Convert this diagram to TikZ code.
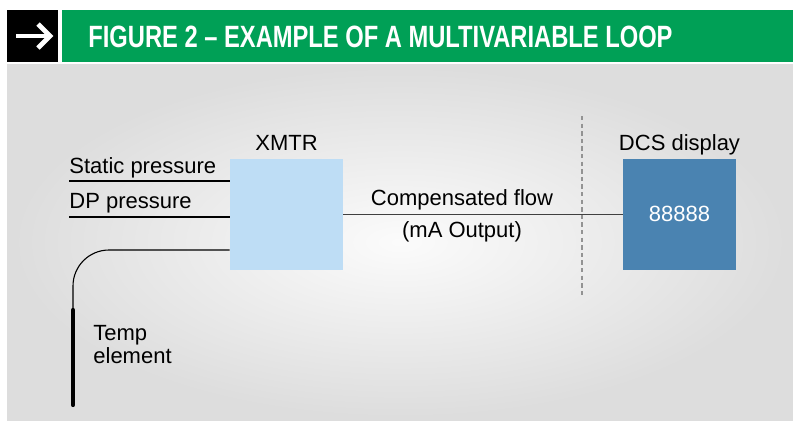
\documentclass[tikz,border=0pt]{standalone}
\usepackage{fontspec}
\setmainfont{Liberation Sans}
\newfontfamily\titlefont[FakeStretch=0.77]{Liberation Sans}
\usetikzlibrary{positioning,calc}

\definecolor{figgreen}{HTML}{00A056}
\definecolor{xmtrblue}{HTML}{BEDDF5}
\definecolor{dcsblue}{HTML}{4A83B1}

\tikzset{
  lbl/.style={font=\fontsize{11}{13}\selectfont,inner sep=0pt},
  boxnode/.style={minimum width=56.5pt,minimum height=55.5pt,inner sep=0pt},
  wire/.style={line width=0.55pt,black},
}

\begin{document}
\begin{tikzpicture}[x=0.5pt,y=-0.5pt,line cap=butt]
  \useasboundingbox (0,0) rectangle (793,423);
  \fill[white] (0,0) rectangle (793,423);

  % header bar
  \fill[black] (7,10) rectangle (58,62);
  \fill[figgreen] (62,10) rectangle (793,62);
  \draw[white,line width=2.2pt] (16,36) -- (48,36);
  \draw[white,line width=2.4pt,line join=miter] (38,24) -- (50,36) -- (38,48);
  \node[anchor=base west,inner sep=0pt,text=white,font=\titlefont\bfseries\fontsize{15.4}{18}\selectfont]
    (title) at (88,47) {FIGURE 2 – EXAMPLE OF A MULTIVARIABLE LOOP};

  % shaded panel
  \shade[inner color=gray!3,outer color=gray!27] (7,64) rectangle (793,420);

  % boxes
  \node[boxnode,fill=xmtrblue] (xmtr) at (286.5,214.5) {};
  \node[boxnode,fill=dcsblue] (dcs) at (679.5,214.5) {};
  \node[lbl,anchor=base] (xmtrlbl) at ([yshift=4pt]xmtr.north) {XMTR};
  \node[lbl,anchor=base] (dcslbl) at ([yshift=4pt]dcs.north) {DCS display};
  \node[lbl,anchor=base,text=white] (digits) at ([yshift=-3.7pt]dcs.center) {88888};

  % inputs
  \node[lbl,anchor=base west] (static) at (69,173) {Static pressure};
  \coordinate (sp) at (69,181);
  \draw[wire] (sp) -- (sp -| xmtr.west);
  \node[lbl,anchor=base west] (dp) at (69,208) {DP pressure};
  \coordinate (dpp) at (69,217);
  \draw[wire] (dpp) -- (dpp -| xmtr.west);

  % temp element
  \coordinate (te) at (73,310);
  \coordinate (tc) at (73,250);
  \draw[wire,rounded corners=18pt] (tc -| xmtr.west) -- (tc) -- (te);
  \draw[line width=2.1pt,line cap=round] (te) -- (73,405);
  \node[lbl,anchor=base west] (temp) at (93,340) {Temp};
  \node[lbl,anchor=base west] (elem) at (93,363) {element};

  % output
  \draw[line width=0.75pt,black!75] (xmtr.east) -- (dcs.west);
  \node[lbl,anchor=base] (comp) at (462,205) {Compensated flow};
  \node[lbl,anchor=base] (ma) at (462,237) {(mA Output)};
  \draw[gray!85,line width=1pt,dash pattern=on 2.2pt off 1.6pt] (582,116) -- (582,297);
\end{tikzpicture}
\end{document}
